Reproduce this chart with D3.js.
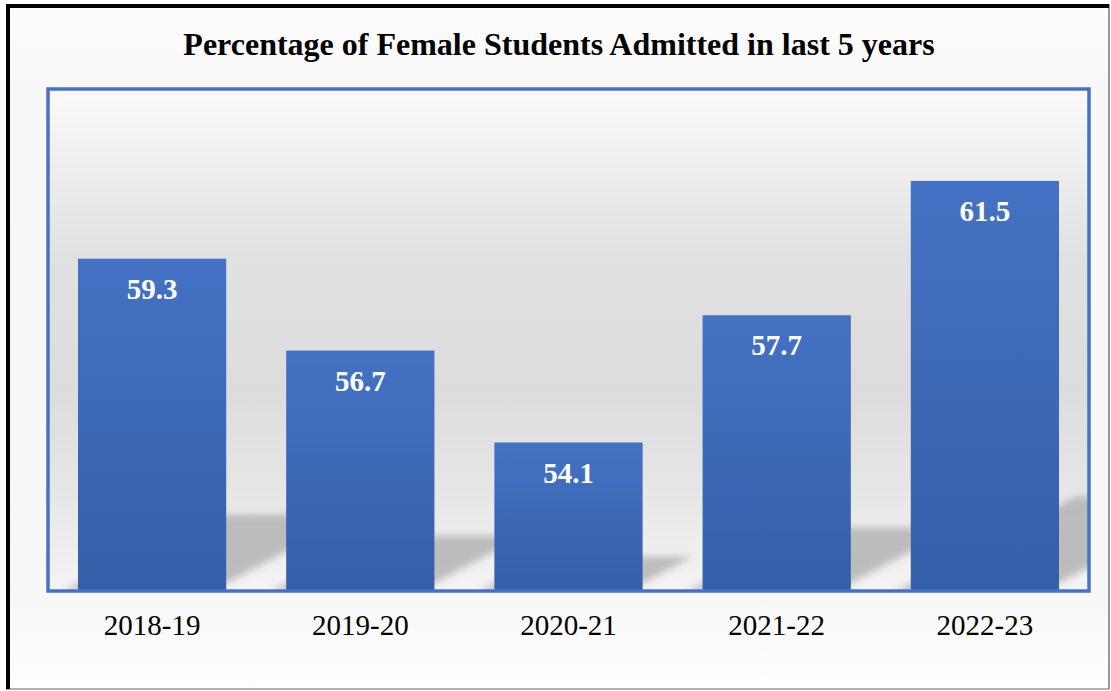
<!DOCTYPE html>
<html><head><meta charset="utf-8">
<script src="https://cdn.jsdelivr.net/npm/d3@7"></script>
<style>html,body{margin:0;padding:0;background:#fff;}svg{display:block}</style>
</head><body><svg id="c" width="1111" height="691"></svg>
<script>
const categories = ["2018-19", "2019-20", "2020-21", "2021-22", "2022-23"];
const values = [59.3, 56.7, 54.1, 57.7, 61.5];
const yDomain = [49.9, 64.1];
const title = "Percentage of Female Students Admitted in last 5 years";

const svg = d3.select("#c");
const frame = {x0: 6, y0: 4, x1: 1109, y1: 689};
const plot = {x0: 48, x1: 1089, y0: 89, y1: 591};
const defs = svg.append("defs");

function grad(id, stops, attrs) {
  const g = defs.append("linearGradient").attr("id", id).attr("x1", 0).attr("y1", 0).attr("x2", 0).attr("y2", 1);
  if (attrs) Object.entries(attrs).forEach(([k, v]) => g.attr(k, v));
  stops.forEach(([o, c]) => g.append("stop").attr("offset", o).attr("stop-color", c));
}
grad("bgGrad", [[0, "#fdfdfd"], [0.12, "#f8f8f8"], [0.86, "#f7f7f7"], [1, "#ffffff"]]);
grad("plotGrad", [[0, "#fafafa"], [0.33, "#e1e1e1"], [0.6, "#dcdcdc"], [0.8, "#e6e6e6"], [1, "#f4f4f4"]]);
grad("barGrad", [[0, "#4472c4"], [1, "#345fa9"]]);
defs.append("filter").attr("id", "blur").attr("x", "-20%").attr("y", "-50%").attr("width", "140%").attr("height", "200%")
  .append("feGaussianBlur").attr("stdDeviation", 3.5);
defs.append("clipPath").attr("id", "plotClip").append("rect")
  .attr("x", plot.x0).attr("y", plot.y0).attr("width", plot.x1 - plot.x0).attr("height", plot.y1 - plot.y0);

// chart background + frame
svg.append("rect").attr("x", frame.x0).attr("y", frame.y0).attr("width", frame.x1 - frame.x0).attr("height", frame.y1 - frame.y0)
  .attr("fill", "url(#bgGrad)");
svg.append("line").attr("x1", frame.x1).attr("x2", frame.x1).attr("y1", frame.y0).attr("y2", frame.y1).attr("stroke", "#555").attr("stroke-width", 1.2);
svg.append("line").attr("x1", frame.x0).attr("x2", frame.x1).attr("y1", frame.y1).attr("y2", frame.y1).attr("stroke", "#666").attr("stroke-width", 1.2);
svg.append("line").attr("x1", frame.x0 + 2).attr("x2", frame.x0 + 2).attr("y1", frame.y0).attr("y2", frame.y1).attr("stroke", "#000").attr("stroke-width", 4);
svg.append("line").attr("x1", frame.x0).attr("x2", frame.x1).attr("y1", frame.y0 + 2).attr("y2", frame.y0 + 2).attr("stroke", "#000").attr("stroke-width", 4);

// title
svg.append("text").attr("x", 559).attr("y", 55).attr("text-anchor", "middle")
  .attr("font-family", "'Liberation Serif','Times New Roman',serif").attr("font-weight", "bold").attr("font-size", 32)
  .attr("fill", "#000").text(title);

// plot area
svg.append("rect").attr("x", plot.x0).attr("y", plot.y0).attr("width", plot.x1 - plot.x0).attr("height", plot.y1 - plot.y0)
  .attr("fill", "url(#plotGrad)");

const x = d3.scaleBand().domain(categories).range([plot.x0, plot.x1]).paddingInner(0.288).paddingOuter(0.144);
const y = d3.scaleLinear().domain(yDomain).range([plot.y1, plot.y0]);
const data = categories.map((c, i) => ({c, v: values[i]}));

// perspective shadows
const shadowG = svg.append("g").attr("clip-path", "url(#plotClip)");
shadowG.selectAll("path").data(data).join("path")
  .attr("d", d => {
    const base = y(yDomain[0]);
    const h = base - y(d.v);
    const hs = 0.23 * h, s = 1.9, off = -15;
    const xa = x(d.c) + off, xb = x(d.c) + x.bandwidth() + off;
    return `M${xa},${base}L${xb},${base}L${xb + s * hs},${base - hs}L${xa + s * hs},${base - hs}Z`;
  })
  .attr("fill", "#b4b4b4").attr("opacity", 0.85).attr("filter", "url(#blur)");

// bars
svg.append("g").selectAll("rect").data(data).join("rect")
  .attr("x", d => x(d.c)).attr("y", d => y(d.v))
  .attr("width", x.bandwidth()).attr("height", d => y(yDomain[0]) - y(d.v))
  .attr("fill", "url(#barGrad)");

// plot border
svg.append("rect").attr("x", plot.x0).attr("y", plot.y0).attr("width", plot.x1 - plot.x0).attr("height", plot.y1 - plot.y0)
  .attr("fill", "none").attr("stroke", "#4472c4").attr("stroke-width", 3.5);

// data labels
svg.append("g").selectAll("text").data(data).join("text")
  .attr("x", d => x(d.c) + x.bandwidth() / 2).attr("y", d => y(d.v) + 40)
  .attr("text-anchor", "middle")
  .attr("font-family", "'Liberation Serif','Times New Roman',serif").attr("font-weight", "bold").attr("font-size", 29)
  .attr("fill", "#fff").text(d => d.v.toFixed(1));

// x axis labels
const xAxis = d3.axisBottom(x).tickSize(0).tickPadding(0);
const ax = svg.append("g").attr("transform", `translate(0,${plot.y1})`).call(xAxis);
ax.select(".domain").remove();
ax.selectAll("text").attr("y", 44).attr("dy", null)
  .attr("font-family", "'Liberation Serif','Times New Roman',serif").attr("font-size", 29).attr("fill", "#000");
</script></body></html>
